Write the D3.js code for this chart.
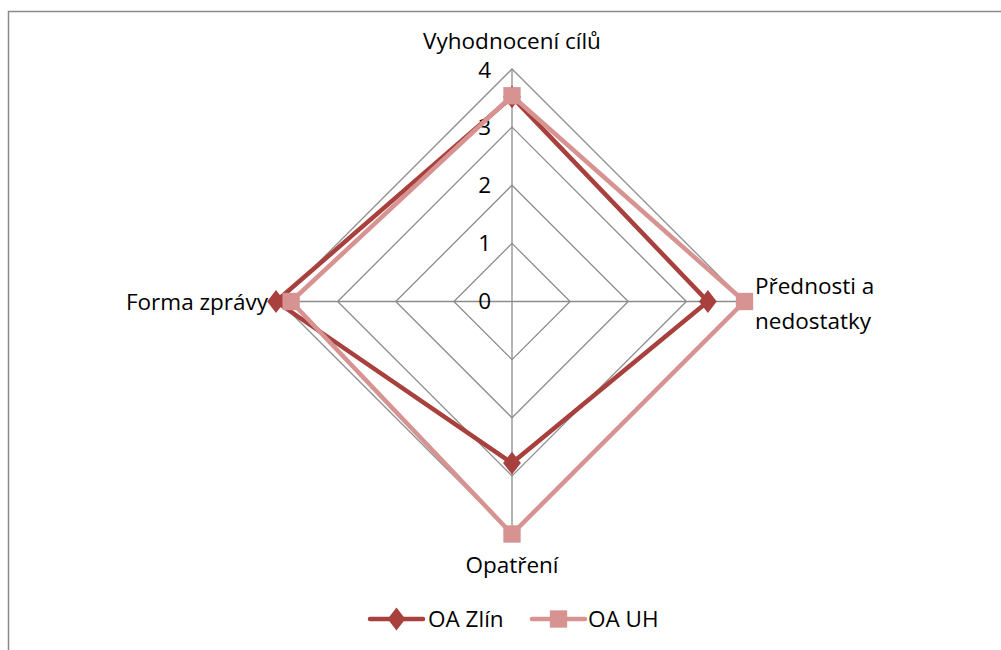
<!DOCTYPE html>
<html>
<head>
<meta charset="utf-8">
<script src="https://cdn.jsdelivr.net/npm/d3@7"></script>
<style>
  body { margin: 0; background: #fff; }
  svg text { font-family: "Open Sans", Lato, sans-serif; fill: #000; }
</style>
</head>
<body>
<div id="chart"></div>
<script>
const categories = ["Vyhodnocení cílů", "Přednosti a nedostatky", "Opatření", "Forma zprávy"];
const ticks = [0, 1, 2, 3, 4];
const zlin = [3.52, 3.37, 2.78, 4.06];
const uh = [3.54, 4.0, 4.0, 3.8];
const seriesNames = ["OA Zlín", "OA UH"];

const width = 1001, height = 650;
const cx = 512, cy = 301.5, R = 232.5;
const fs = 22.5;

const svg = d3.select("#chart").append("svg")
  .attr("width", width)
  .attr("height", height);

// outer chart border
svg.append("rect")
  .attr("x", 8.5).attr("y", 11.5)
  .attr("width", 1010).attr("height", 660)
  .attr("fill", "none")
  .attr("stroke", "#8a8a8a")
  .attr("stroke-width", 1.5);

const r = d3.scaleLinear().domain([0, 4]).range([0, R]);
const angle = (i) => i * Math.PI / 2; // clockwise from top
const pt = (i, v) => [cx + r(v) * Math.sin(angle(i)), cy - r(v) * Math.cos(angle(i))];

const g = svg.append("g");

// grid rings
ticks.slice(1).forEach((t) => {
  const pts = categories.map((c, i) => pt(i, t));
  g.append("path")
    .attr("d", d3.line()(pts) + "Z")
    .attr("fill", "none")
    .attr("stroke", "#8c8c8c")
    .attr("stroke-width", 1.3);
});

// spokes
categories.forEach((c, i) => {
  const [x, y] = pt(i, 4);
  g.append("line")
    .attr("x1", cx).attr("y1", cy).attr("x2", x).attr("y2", y)
    .attr("stroke", "#8c8c8c")
    .attr("stroke-width", 1.3);
});

// tick labels
ticks.forEach((t) => {
  g.append("text")
    .attr("x", 491)
    .attr("y", cy - r(t) + (t === 4 ? 1.5 : 0))
    .attr("dy", "0.35em")
    .attr("text-anchor", "end")
    .attr("font-size", fs)
    .text(t);
});

// category labels
g.append("text").attr("x", cx).attr("y", 49).attr("text-anchor", "middle")
  .attr("font-size", fs).text(categories[0]);
const lab1 = g.append("text").attr("x", 755).attr("font-size", fs);
lab1.append("tspan").attr("x", 755).attr("y", 294).text("Přednosti a");
lab1.append("tspan").attr("x", 755).attr("y", 329).text("nedostatky");
g.append("text").attr("x", cx).attr("y", 573).attr("text-anchor", "middle")
  .attr("font-size", fs).text(categories[2]);
g.append("text").attr("x", 268).attr("y", 310).attr("text-anchor", "end")
  .attr("font-size", fs).text(categories[3]);

const colors = ["#a8403d", "#d69391"];
const symbols = [d3.symbolDiamond, d3.symbolSquare];
const symSize = [150, 300];

function drawSeries(vals, k) {
  const pts = vals.map((v, i) => pt(i, v));
  g.append("path")
    .attr("d", d3.line()(pts) + "Z")
    .attr("fill", "none")
    .attr("stroke", colors[k])
    .attr("stroke-width", 4.5)
    .attr("stroke-linejoin", "round");
  pts.forEach(([x, y]) => {
    g.append("path")
      .attr("d", d3.symbol().type(symbols[k]).size(symSize[k])())
      .attr("transform", k === 0 ? `translate(${x},${y}) scale(1.35,1)` : `translate(${x},${y})`)
      .attr("fill", colors[k]);
  });
}
drawSeries(zlin, 0);
drawSeries(uh, 1);

// legend
const legend = svg.append("g");
const legendItems = [{ x0: 370, x1: 423, tx: 428 }, { x0: 532, x1: 585, tx: 588 }];
legendItems.forEach((it, k) => {
  const ly = 619;
  legend.append("line")
    .attr("x1", it.x0).attr("x2", it.x1).attr("y1", ly).attr("y2", ly)
    .attr("stroke", colors[k]).attr("stroke-width", 4.5).attr("stroke-linecap", "round");
  legend.append("path")
    .attr("d", d3.symbol().type(symbols[k]).size(symSize[k])())
    .attr("transform", k === 0 ? `translate(${(it.x0 + it.x1) / 2},${ly}) scale(1.35,1)` : `translate(${(it.x0 + it.x1) / 2},${ly})`)
    .attr("fill", colors[k]);
  legend.append("text")
    .attr("x", it.tx).attr("y", ly).attr("dy", "0.35em")
    .attr("font-size", fs)
    .text(seriesNames[k]);
});
</script>
</body>
</html>
